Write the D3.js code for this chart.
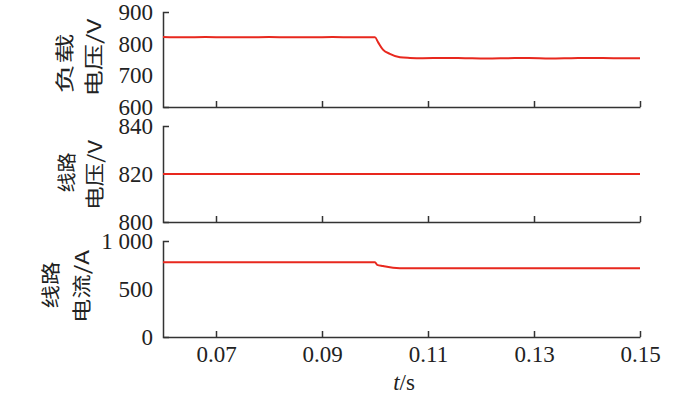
<!DOCTYPE html>
<html>
<head>
<meta charset="utf-8">
<script src="https://cdn.jsdelivr.net/npm/d3@7"></script>
<style>
  body { margin: 0; background: #fff; }
  svg { display: block; }
  .tick text { font-family: "Times New Roman", Tinos, "Liberation Serif", serif; font-size: 23px; fill: #222; }
  .domain, .tick line { stroke: #333; stroke-width: 1.5; }
</style>
</head>
<body>
<svg id="chart" width="700" height="397"></svg>
<script>
// Load voltage (V)
const tLoad = [0.06, 0.064, 0.068, 0.072, 0.076, 0.08, 0.084, 0.088, 0.092, 0.096, 0.1,
  0.1006, 0.1015, 0.1028, 0.1047, 0.1066, 0.109, 0.113, 0.117, 0.121, 0.125, 0.129,
  0.133, 0.137, 0.141, 0.145, 0.15];
const vLoad = [821, 820, 821, 820, 820, 821, 820, 820, 821, 820, 820,
  804, 781, 768, 757, 755, 754, 755, 754, 753, 754, 755,
  753, 754, 755, 754, 754];

// Line voltage (V)
const tLine = [0.06, 0.1, 0.15];
const vLine = [820, 820, 820];

// Line current (A)
const tCur = [0.06, 0.1, 0.1004, 0.1015, 0.1034, 0.106, 0.11, 0.13, 0.15];
const iCur = [778, 778, 752, 740, 722, 716, 716, 716, 716];

// Axis ticks
const xTicks = [0.07, 0.09, 0.11, 0.13, 0.15];
const yTicksLoad = [600, 700, 800, 900];
const yTicksLine = [800, 820, 840];
const yTicksCur = [0, 500, 1000];

const svg = d3.select("#chart");
const left = 163, right = 640;

const x = d3.scaleLinear().domain([0.06, 0.15]).range([left, right]);

const panels = [
  { t: tLoad, v: vLoad, dom: [600, 900], ticks: yTicksLoad, top: 12, bottom: 107,
    labels: [["负载", 64, 63.5, 60], ["电压/V", 93, 57.5, 78]] },
  { t: tLine, v: vLine, dom: [800, 840], ticks: yTicksLine, top: 126, bottom: 222,
    labels: [["线路", 66, 172.5, 40], ["电压/V", 94, 175, 70]] },
  { t: tCur, v: iCur, dom: [0, 1000], ticks: yTicksCur, top: 241, bottom: 337,
    labels: [["线路", 50, 285, 47], ["电流/A", 81, 286.5, 73]] }
];

const fmtY = d => d >= 1000 ? "1 000" : String(d);

panels.forEach((p, idx) => {
  const y = d3.scaleLinear().domain(p.dom).range([p.bottom, p.top]);
  const last = idx === panels.length - 1;

  svg.append("g")
    .attr("transform", `translate(0,${p.bottom})`)
    .call(d3.axisBottom(x).tickValues(xTicks)
      .tickSizeInner(-6).tickSizeOuter(0).tickPadding(9)
      .tickFormat(last ? d3.format(".2f") : () => ""));

  svg.append("g")
    .attr("transform", `translate(${left},0)`)
    .call(d3.axisLeft(y).tickValues(p.ticks)
      .tickSizeInner(0).tickSizeOuter(-6).tickPadding(10)
      .tickFormat(fmtY));

  const line = d3.line()
    .x((d, i) => x(p.t[i]))
    .y(d => y(d))
    .curve(d3.curveMonotoneX);

  svg.append("path")
    .datum(p.v)
    .attr("d", line)
    .attr("fill", "none")
    .attr("stroke", "#e8281e")
    .attr("stroke-width", 2);

  // y titles: stretched along the text direction like the original
  p.labels.forEach(([txt, lx, ly, len]) => {
    const t = svg.append("text")
      .attr("text-anchor", "middle")
      .attr("dominant-baseline", "central")
      .attr("font-family", "'Noto Sans CJK SC', 'Liberation Serif', serif")
      .attr("font-size", 19)
      .attr("fill", "#222")
      .text(txt);
    const w = t.node().getComputedTextLength();
    t.attr("transform", `translate(${lx},${ly}) rotate(-90) scale(${len / w},1)`);
  });
});

// x axis title
const xt = svg.append("text")
  .attr("x", 404)
  .attr("y", 390)
  .attr("text-anchor", "middle")
  .attr("font-family", "'Times New Roman', Tinos, 'Liberation Serif', serif")
  .attr("font-size", 23)
  .attr("fill", "#222");
xt.append("tspan").attr("font-style", "italic").text("t");
xt.append("tspan").text("/s");
</script>
</body>
</html>
